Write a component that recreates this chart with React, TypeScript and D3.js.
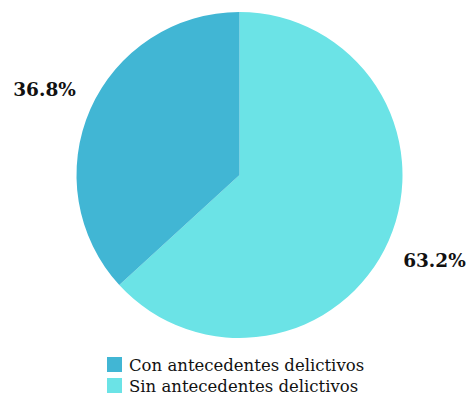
import * as d3 from 'd3';
import { type FC } from 'react';

const categories = ['Con antecedentes delictivos', 'Sin antecedentes delictivos'];
const values = [36.8, 63.2];
const labels = ['36.8%', '63.2%'];
const colors = ['#41b6d4', '#6be3e6'];

const width = 468;
const height = 402;
const cx = 239.5;
const cy = 175;
const radius = 163;
const labelRadius = 213;
const font = "'DejaVu Serif', serif";

type Slice = { name: string; value: number; label: string; color: string };

const App: FC = () => {
  const slices: Slice[] = categories.map((name, i) => ({
    name,
    value: values[i],
    label: labels[i],
    color: colors[i],
  }));

  // light slice starts at 12 o'clock going clockwise, dark one closes the circle
  const pie = d3
    .pie<Slice>()
    .sort(null)
    .value((d) => d.value);
  const arcs = pie([slices[1], slices[0]]);

  const arc = d3.arc<d3.PieArcDatum<Slice>>().innerRadius(0).outerRadius(radius);
  const labelArc = d3
    .arc<d3.PieArcDatum<Slice>>()
    .innerRadius(labelRadius)
    .outerRadius(labelRadius);

  return (
    <svg
      width={width}
      height={height}
      viewBox={`0 0 ${width} ${height}`}
      style={{ position: 'absolute', left: 0, top: 0, background: '#fff', fontFamily: font }}
    >
      <g transform={`translate(${cx},${cy})`}>
        {arcs.map((a) => (
          <path key={a.data.name} d={arc(a) ?? undefined} fill={a.data.color} />
        ))}
        {arcs.map((a) => {
          const [x, y] = labelArc.centroid(a);
          return (
            <text
              key={a.data.name}
              x={x}
              y={y}
              dy='0.35em'
              textAnchor='middle'
              fontWeight='bold'
              fontSize={18.5}
              fill='#111'
            >
              {a.data.label}
            </text>
          );
        })}
      </g>
      <g transform='translate(107,357)'>
        {slices.map((s, i) => (
          <g key={s.name} transform={`translate(0,${i * 21})`}>
            <rect width={15} height={15} fill={s.color} />
            <text x={22} y={14} fontSize={16.5} fill='#111'>
              {s.name}
            </text>
          </g>
        ))}
      </g>
    </svg>
  );
};

export default App;
